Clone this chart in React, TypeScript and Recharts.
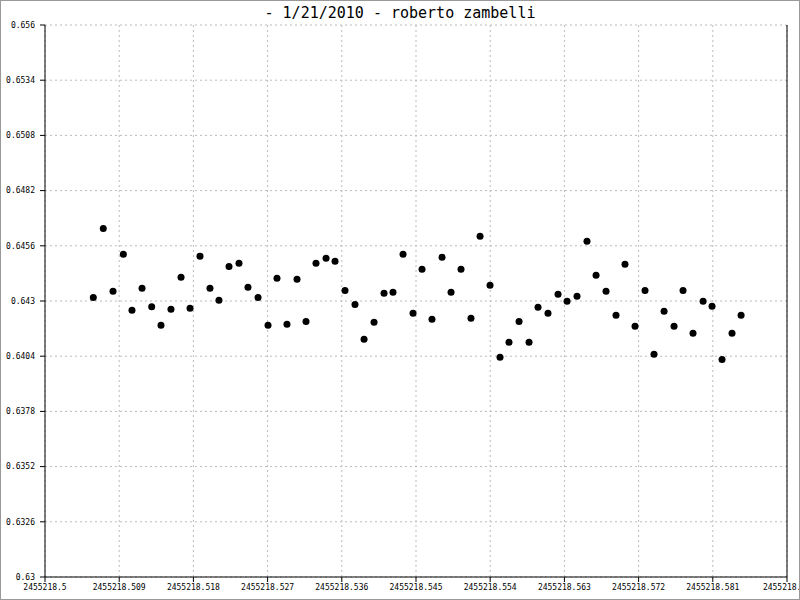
import { ScatterChart, Scatter, XAxis, YAxis, CartesianGrid, ReferenceLine } from 'recharts';

const jdBase = 2455218.5;

// time offsets from the base julian date (days)
const timeOffsets = [
  0.00586, 0.00707, 0.00825, 0.0095, 0.01055, 0.01177, 0.01294, 0.01407, 0.01528, 0.0165,
  0.01759, 0.0188, 0.02001, 0.0211, 0.02232, 0.02353, 0.02462, 0.02584, 0.02705, 0.02814,
  0.02935, 0.03057, 0.03166, 0.03287, 0.03409, 0.03518, 0.03639, 0.0376, 0.0387, 0.03991,
  0.04112, 0.04221, 0.04343, 0.04464, 0.04573, 0.04694, 0.04816, 0.04925, 0.05046, 0.05167,
  0.05277, 0.05398, 0.05519, 0.05628, 0.0575, 0.05871, 0.0598, 0.06101, 0.06223, 0.06332,
  0.06453, 0.06574, 0.06684, 0.06805, 0.06926, 0.07035, 0.07157, 0.07278, 0.07387, 0.07509,
  0.0763, 0.07739, 0.0786, 0.07982, 0.08091, 0.08212, 0.08333, 0.08443,
];

const magnitudes = [
  0.64317, 0.64642, 0.64346, 0.6452, 0.64256, 0.6436, 0.64273, 0.64186, 0.64261, 0.64412,
  0.64266, 0.64511, 0.6436, 0.64303, 0.64463, 0.64478, 0.64365, 0.64317, 0.64186, 0.64407,
  0.6419, 0.64402, 0.64204, 0.64478, 0.64501, 0.64487, 0.6435, 0.64284, 0.6412, 0.642,
  0.64336, 0.64341, 0.6452, 0.64242, 0.64449, 0.64214, 0.64506, 0.64341, 0.64449, 0.64219,
  0.64605, 0.64374, 0.64035, 0.64106, 0.64204, 0.64106, 0.6427, 0.64242, 0.64332, 0.64299,
  0.64322, 0.64581, 0.64421, 0.64346, 0.64233, 0.64473, 0.64181, 0.6435, 0.64049, 0.64252,
  0.64181, 0.6435, 0.64148, 0.64299, 0.64275, 0.64025, 0.64148, 0.64233,
];

const xTicks = [
  2455218.5, 2455218.509, 2455218.518, 2455218.527, 2455218.536, 2455218.545,
  2455218.554, 2455218.563, 2455218.572, 2455218.581, 2455218.59,
];
const yTicks = [
  0.63, 0.6326, 0.6352, 0.6378, 0.6404, 0.643, 0.6456, 0.6482, 0.6508, 0.6534, 0.656,
];

const points = timeOffsets.map((t, i) => ({ jd: jdBase + t, mag: magnitudes[i] }));

const mono = '"DejaVu Sans Mono", monospace';

const Dot = (props: any) => <circle cx={props.cx} cy={props.cy} r={3.5} fill="#000" />;

export default function App() {
  return (
    <div style={{ position: 'absolute', left: 0, top: 0, width: 800, height: 600, background: '#fff' }}>
      <div
        style={{
          position: 'absolute',
          top: 4,
          left: 0,
          width: 800,
          textAlign: 'center',
          fontFamily: mono,
          fontSize: 15,
          color: '#000',
          lineHeight: '18px',
        }}
      >
        - 1/21/2010 - roberto zambelli
      </div>
      <ScatterChart width={800} height={600} margin={{ top: 25, right: 13, bottom: 0, left: 0 }}>
        <CartesianGrid stroke="#bbb" strokeDasharray="2 3" />
        <XAxis
          type="number"
          dataKey="jd"
          domain={[xTicks[0], xTicks[xTicks.length - 1]]}
          ticks={xTicks}
          interval={0}
          height={23}
          tickSize={5}
          tickMargin={2}
          stroke="#000"
          tick={{ fill: '#000', fontSize: 8, fontFamily: mono }}
          allowDataOverflow
        />
        <YAxis
          type="number"
          dataKey="mag"
          domain={[yTicks[0], yTicks[yTicks.length - 1]]}
          ticks={yTicks}
          interval={0}
          width={45}
          tickSize={5}
          tickMargin={5}
          stroke="#000"
          tick={{ fill: '#000', fontSize: 8, fontFamily: mono }}
          allowDataOverflow
        />
        <ReferenceLine x={xTicks[xTicks.length - 1]} stroke="#000" />
        <Scatter data={points} shape={<Dot />} isAnimationActive={false} />
      </ScatterChart>
      <div
        style={{
          position: 'absolute',
          left: 0,
          top: 0,
          width: 800,
          height: 600,
          boxSizing: 'border-box',
          border: '1px solid #999',
          pointerEvents: 'none',
        }}
      />
    </div>
  );
}
